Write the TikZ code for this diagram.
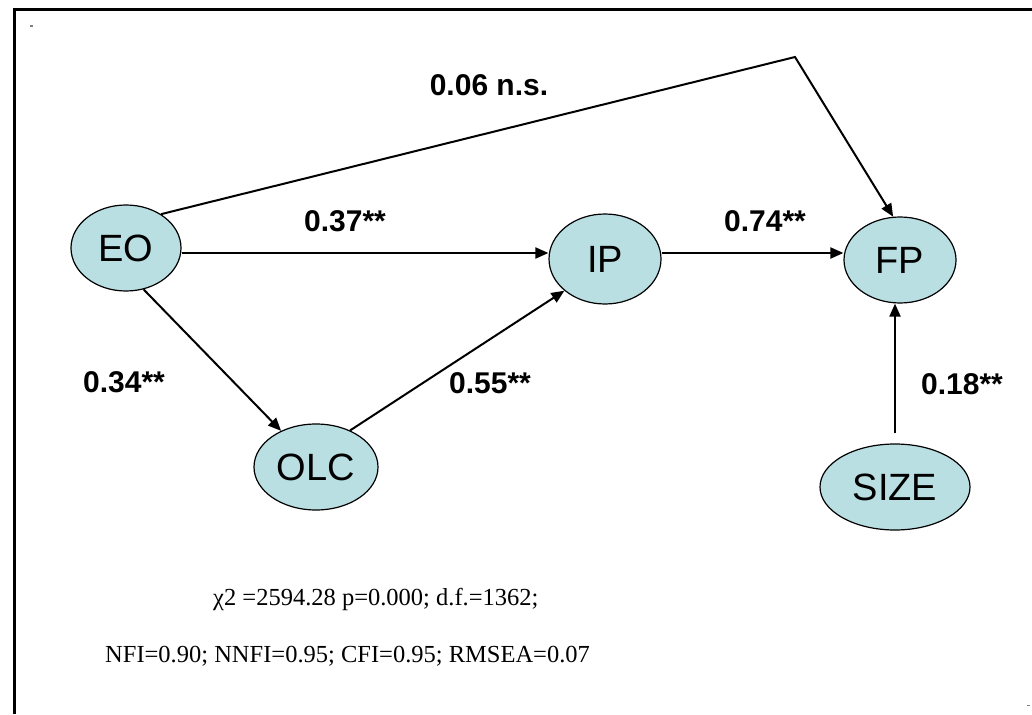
\documentclass[tikz,border=0pt]{standalone}
\usepackage{fontspec}
\setmainfont{Liberation Serif}
\newfontfamily\arialfont{Liberation Sans}
\usetikzlibrary{shapes.geometric,arrows.meta}
\definecolor{nodefill}{RGB}{185,223,227}
\begin{document}
\begin{tikzpicture}[x=1pt,y=-1pt,
  latent/.style={ellipse,draw=black,line width=1.2pt,fill=nodefill,inner sep=0pt,font=\arialfont\fontsize{38}{42}\selectfont},
  pathline/.style={line width=2pt},
  patharrow/.style={pathline,-{Triangle[length=13pt,width=11pt]}},
  coef/.style={font=\arialfont\bfseries\fontsize{30}{34}\selectfont,inner sep=0pt},
  fitline/.style={font=\fontsize{24.5}{30}\selectfont,inner sep=0pt,anchor=west},
]
\useasboundingbox (0,0) rectangle (1032,714);
\fill[white] (0,0) rectangle (1032,714);
\draw[line width=3pt] (14,714) -- (14,10) -- (1032,10);
\fill[gray] (30,25.5) rectangle (33,27);
\fill[gray] (1027,704.5) rectangle (1030,706);

\node[latent,minimum width=110pt,minimum height=86pt] (EO) at (126,248) {EO};
\node[latent,minimum width=112pt,minimum height=90pt] (IP) at (605,259) {IP};
\node[latent,minimum width=112pt,minimum height=86pt] (FP) at (900,260) {FP};
\node[latent,minimum width=124pt,minimum height=86pt] (OLC) at (316,467) {OLC};
\node[latent,minimum width=150pt,minimum height=86pt] (SIZE) at (895,487) {SIZE};

\coordinate (L) at (0,253);
\coordinate (apex) at (795,57);

\draw[patharrow] (EO.east |- L) -- (IP.west |- L);
\draw[patharrow] (IP.east |- L) -- (FP.west |- L);
\draw[patharrow] (EO.-67) -- (OLC.134);
\draw[patharrow] (OLC.47) -- (IP.218);
\draw[patharrow] (EO.44) -- (apex) -- (FP.99);
\draw[patharrow] ([yshift=10pt]SIZE.north) -- (SIZE.north |- FP.south);

\node[coef] (l06) at (489,85) {0.06 n.s.};
\node[coef] (l37) at (345,221) {0.37**};
\node[coef] (l74) at (765,221) {0.74**};
\node[coef] (l34) at (124,382) {0.34**};
\node[coef] (l55) at (490,383) {0.55**};
\node[coef] (l18) at (962,384) {0.18**};

\node[fitline] (fit1) at (213,599) {χ2 =2594.28 p=0.000; d.f.=1362;};
\node[fitline] (fit2) at (105,656) {NFI=0.90; NNFI=0.95; CFI=0.95; RMSEA=0.07};
\end{tikzpicture}
\end{document}
